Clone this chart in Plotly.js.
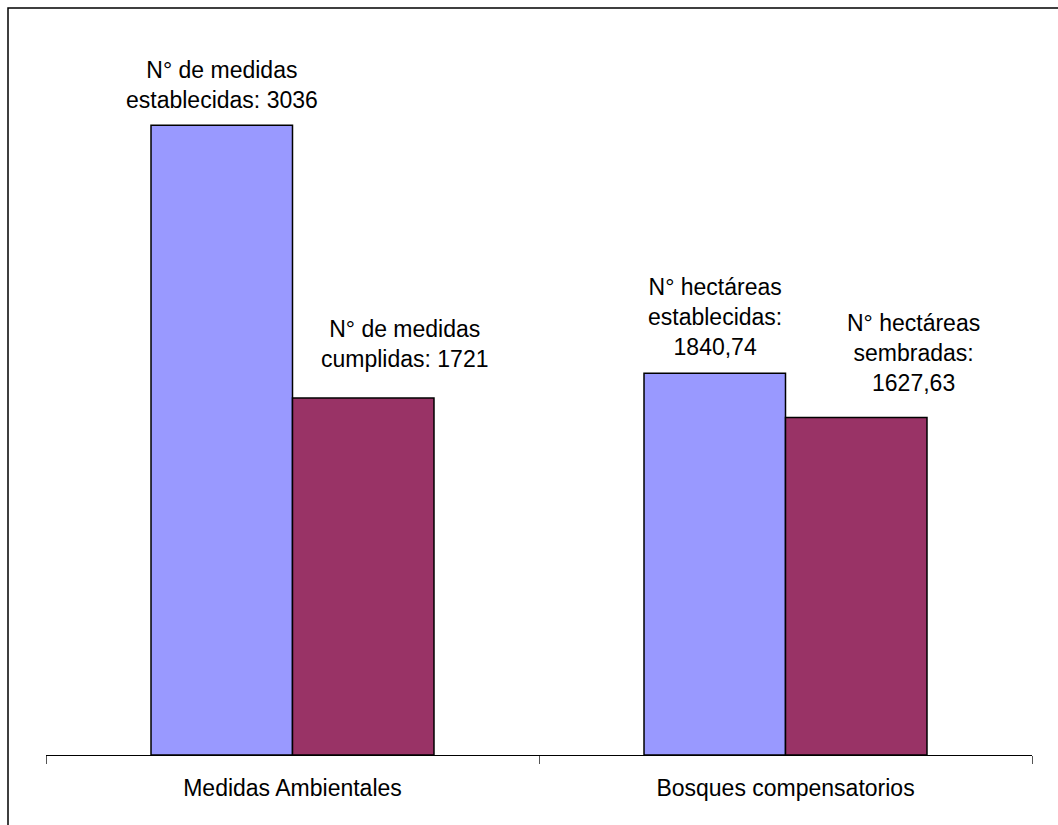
<!DOCTYPE html>
<html>
<head>
<meta charset="utf-8">
<script src="https://cdn.plot.ly/plotly-3.0.1.min.js"></script>
<style>
  html, body { margin: 0; padding: 0; background: #ffffff; }
  #chart { width: 1058px; height: 825px; }
</style>
</head>
<body>
<div id="chart"></div>
<script>
// Categories on the x axis
const categories = ["Medidas Ambientales", "Bosques compensatorios"];

// First series: what was established; second series: what was fulfilled / planted
const established = [3036, 1840.74];
const fulfilled = [1721, 1627.63];

// Label prefixes for each bar, value appended below
const establishedLabels = ["N° de medidas<br>establecidas: ", "N° hectáreas<br>establecidas:<br>"];
const fulfilledLabels = ["N° de medidas<br>cumplidas: ", "N° hectáreas<br>sembradas:<br>"];

const fmt = v => String(v).replace('.', ',');

const FONT = 'Liberation Sans, Arial, sans-serif';
const SIZE = 23;

const traces = [
  {
    type: 'bar', x: categories, y: established, name: 'establecidas',
    marker: { color: '#9999FF', line: { color: '#000000', width: 1.5 } },
    hoverinfo: 'none'
  },
  {
    type: 'bar', x: categories, y: fulfilled, name: 'cumplidas',
    marker: { color: '#993366', line: { color: '#000000', width: 1.5 } },
    hoverinfo: 'none'
  }
];

// Half the width of one bar in pixels, used to sit each label over its own bar
const halfBar = 70.5;
const annotations = [];
categories.forEach((c, i) => {
  annotations.push({
    x: c, y: established[i], xref: 'x', yref: 'y',
    text: establishedLabels[i] + fmt(established[i]),
    showarrow: false, xanchor: 'center', yanchor: 'bottom',
    xshift: -halfBar, yshift: [10, 11][i],
    font: { family: FONT, size: SIZE, color: '#000' }
  });
  annotations.push({
    x: c, y: fulfilled[i], xref: 'x', yref: 'y',
    text: fulfilledLabels[i] + fmt(fulfilled[i]),
    showarrow: false, xanchor: 'center', yanchor: 'bottom',
    xshift: halfBar + [42, 57][i], yshift: [24, 19][i],
    font: { family: FONT, size: SIZE, color: '#000' }
  });
});

const layout = {
  width: 1058, height: 825,
  margin: { l: 46, r: 26, t: 29, b: 70 },
  paper_bgcolor: '#ffffff', plot_bgcolor: '#ffffff',
  showlegend: false,
  barmode: 'group', bargap: 0.426, bargroupgap: 0,
  font: { family: FONT, size: SIZE, color: '#000' },
  xaxis: {
    type: 'category', range: [-0.5, 1.5],
    showline: true, linecolor: '#000', linewidth: 1,
    ticks: 'outside', tickson: 'boundaries', ticklen: 8, tickcolor: '#555', tickwidth: 1,
    ticklabelstandoff: 12,
    tickfont: { family: FONT, size: SIZE, color: '#000' },
    showgrid: false, zeroline: false, fixedrange: true
  },
  yaxis: {
    range: [0, 3500], visible: false, showgrid: false, zeroline: false, fixedrange: true
  },
  annotations: annotations,
  shapes: [{
    type: 'rect', xref: 'paper', yref: 'paper',
    x0: -38 / 986, x1: 1.06, y0: -0.2, y1: 1 + 21 / 726,
    line: { color: '#000', width: 1.5 }, fillcolor: 'rgba(0,0,0,0)', layer: 'above'
  }]
};

Plotly.newPlot('chart', traces, layout, { displayModeBar: false, staticPlot: true });
</script>
</body>
</html>
